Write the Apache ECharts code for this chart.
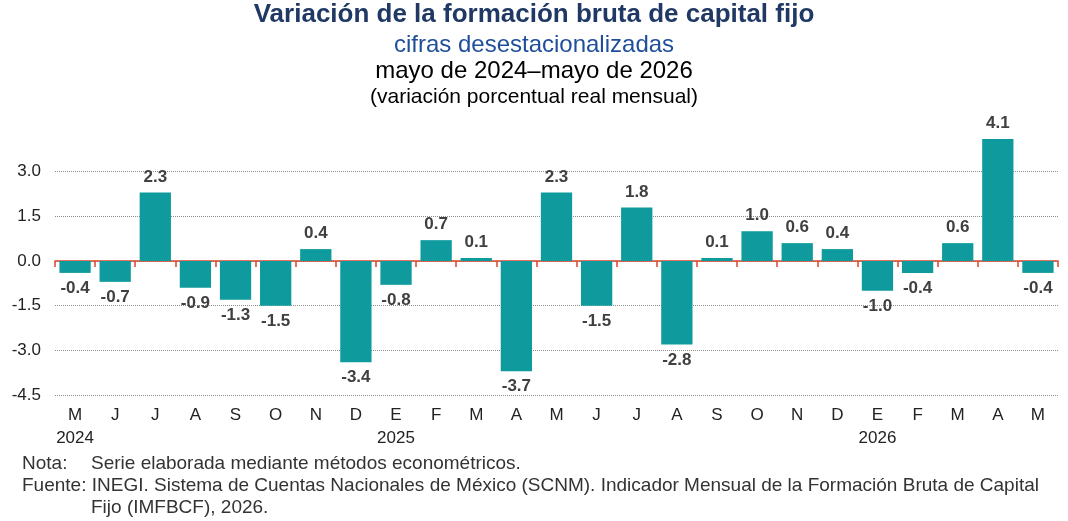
<!DOCTYPE html>
<html><head><meta charset="utf-8">
<script src="https://cdn.jsdelivr.net/npm/echarts@6/dist/echarts.min.js"></script>
<style>html,body{margin:0;background:#fff}#c{width:1068px;height:521px}</style>
</head><body><div id="c"></div>
<script>
// datos
const months = ['M','J','J','A','S','O','N','D','E','F','M','A','M','J','J','A','S','O','N','D','E','F','M','A','M']
const years = ['2024','','','','','','','','2025','','','','','','','','','','','','2026','','','','']
const values = [-0.4,-0.7,2.3,-0.9,-1.3,-1.5,0.4,-3.4,-0.8,0.7,0.1,-3.7,2.3,-1.5,1.8,-2.8,0.1,1.0,0.6,0.4,-1.0,-0.4,0.6,4.1,-0.4]
const yTicks = [-4.5,-3.0,-1.5,0.0,1.5,3.0]

const font = 'Arial, "Liberation Sans", sans-serif'
const chart = echarts.init(document.getElementById('c'))
const base = { type: 'category', data: months, position: 'bottom' }
chart.setOption({
  animation: false,
  textStyle: { fontFamily: font },
  grid: { left: 55, right: 10, top: 127, bottom: 126 },
  xAxis: [
    Object.assign({}, base, {
      axisLine: { onZero: true, lineStyle: { color: '#d9472b', width: 1.5 } },
      axisTick: { show: true, length: 6, lineStyle: { color: '#d9472b', width: 1.5 } },
      axisLabel: { show: false }
    }),
    Object.assign({}, base, {
      axisLine: { show: false, onZero: false }, axisTick: { show: false },
      axisLabel: { color: '#222', fontSize: 17, margin: 12 }
    }),
    Object.assign({}, base, {
      data: years, offset: 23,
      axisLine: { show: false, onZero: false }, axisTick: { show: false },
      axisLabel: { color: '#222', fontSize: 17, margin: 12, interval: 0 }
    })
  ],
  yAxis: {
    type: 'value', min: -4.5, max: 4.5, interval: 1.5,
    axisLine: { show: false }, axisTick: { show: false },
    splitLine: { showMaxLine: false, lineStyle: { color: '#8c8c8c', type: 'dotted' } },
    axisLabel: { color: '#222', fontSize: 17, margin: 14, showMaxLabel: false,
      formatter: v => (yTicks.includes(+v.toFixed(1)) ? v.toFixed(1) : '') }
  },
  series: [{
    type: 'bar', xAxisIndex: 0, barWidth: '78%',
    data: values.map(v => ({ value: v, label: { position: v < 0 ? 'bottom' : 'top' } })),
    itemStyle: { color: '#0f9b9d' },
    label: { show: true, fontSize: 17, fontWeight: 'bold', color: '#404040', distance: 7,
      formatter: p => p.value.toFixed(1) }
  }],
  graphic: [
    { type: 'text', left: 'center', top: 2, style: { text: 'Variación de la formación bruta de capital fijo', font: 'bold 26px ' + font, fill: '#1f3864' } },
    { type: 'text', left: 'center', top: 33, style: { text: 'cifras desestacionalizadas', font: '24px ' + font, fill: '#1f4e9a' } },
    { type: 'text', left: 'center', top: 59, style: { text: 'mayo de 2024–mayo de 2026', font: '24px ' + font, fill: '#000' } },
    { type: 'text', left: 'center', top: 87, style: { text: '(variación porcentual real mensual)', font: '21px ' + font, fill: '#000' } },
    { type: 'text', left: 22, top: 454, style: { text: 'Nota:', font: '19px ' + font, fill: '#333' } },
    { type: 'text', left: 91, top: 454, style: { text: 'Serie elaborada mediante métodos econométricos.', font: '19px ' + font, fill: '#333' } },
    { type: 'text', left: 22, top: 476, style: { text: 'Fuente: INEGI. Sistema de Cuentas Nacionales de México (SCNM). Indicador Mensual de la Formación Bruta de Capital', font: '19px ' + font, fill: '#333' } },
    { type: 'text', left: 91, top: 498, style: { text: 'Fijo (IMFBCF), 2026.', font: '19px ' + font, fill: '#333' } }
  ]
})
</script></body></html>
